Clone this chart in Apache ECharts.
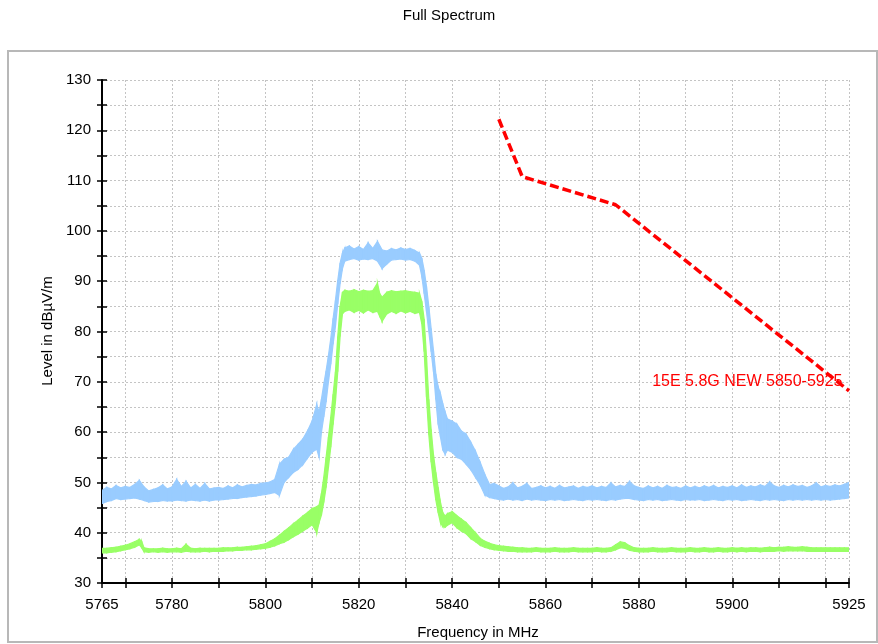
<!DOCTYPE html>
<html><head><meta charset="utf-8">
<script src="https://cdn.jsdelivr.net/npm/echarts@6/dist/echarts.min.js"></script>
<style>html,body{margin:0;padding:0;background:#fff}#c{width:878px;height:644px}</style>
</head><body><div id="c"></div>
<script>
const chartTitle = 'Full Spectrum';
const xName = 'Frequency in MHz';
const yName = 'Level in dB\u00b5V/m';
const xTicks = [5765,5770,5780,5790,5800,5810,5820,5830,5840,5850,5860,5870,5880,5890,5900,5910,5920,5925];
const xLabels = [5765,5780,5800,5820,5840,5860,5880,5900,5925];
const yLabels = [30,40,50,60,70,80,90,100,110,120,130];

// [MHz, lower envelope, upper envelope] in dBµV/m
const blueTrace = [
[5765,45.8,48.4],[5766,46.2,49.0],[5767,46.4,48.7],[5768,46.8,49.4],[5769,46.6,48.9],[5770,46.7,49.2],
[5771,46.8,49.0],[5772,46.9,49.6],[5773,46.7,50.4],[5774,46.4,49.1],[5775,46.1,48.3],[5776,46.2,48.6],
[5777,46.2,48.9],[5778,46.4,49.5],[5779,46.3,48.7],[5780,46.3,49.1],[5781,46.5,50.6],[5782,46.4,49.2],
[5783,46.3,50.2],[5784,46.5,48.9],[5785,46.4,49.6],[5786,46.3,48.8],[5787,46.5,49.8],[5788,46.3,48.7],
[5789,46.5,48.9],[5790,46.5,49.0],[5791,46.6,48.8],[5792,46.7,49.3],[5793,46.8,48.9],[5794,46.8,49.5],
[5795,47.0,49.1],[5796,47.1,49.4],[5797,47.2,49.6],[5798,47.3,49.5],[5799,47.5,49.8],[5800,47.6,49.9],
[5801,47.8,50.1],[5802,48.0,50.6],[5803,47.4,53.6],[5804,50.0,54.6],[5805,51.0,55.0],[5806,52.0,56.6],
[5807,52.6,57.6],[5808,53.5,58.6],[5809,54.8,60.2],[5810,56.0,62.2],[5811,56.6,65.5],[5811.5,55.0,64.0],
[5812,60.0,66.5],[5812.5,63.0,69.5],[5813,66.0,72.2],[5813.5,70.0,75.2],[5814,73.5,78.6],[5814.5,77.5,82.6],
[5815,81.0,86.2],[5815.5,85.5,90.2],[5816,89.5,93.6],[5816.5,92.5,95.6],[5817,94.0,96.6],[5818,94.3,97.0],
[5819,94.5,96.4],[5820,94.2,96.9],[5821,94.4,96.3],[5822,94.3,97.6],[5823,94.5,96.5],[5824,94.0,97.9],
[5825,92.5,96.2],[5826,93.4,96.0],[5827,94.2,96.5],[5828,94.3,96.2],[5829,94.4,96.6],[5830,94.2,96.3],
[5831,94.3,96.5],[5832,94.0,96.1],[5833,93.2,95.6],[5833.5,91.0,94.6],[5834,87.5,92.2],[5834.5,84.0,89.0],
[5835,80.0,85.0],[5835.5,76.0,80.6],[5836,72.0,76.2],[5836.5,66.5,71.6],[5837,61.5,69.0],[5837.5,59.0,67.6],
[5838,56.4,65.6],[5838.5,55.6,64.0],[5839,56.4,62.6],[5840,56.0,62.2],[5841,55.0,61.6],[5842,54.6,60.2],
[5843,53.6,59.6],[5844,52.5,58.0],[5845,51.0,56.2],[5846,49.5,54.0],[5847,47.5,51.6],[5848,47.0,49.6],
[5849,46.8,49.8],[5850,46.6,49.3],[5851,46.5,48.8],[5852,46.7,49.1],[5853,46.5,49.9],[5854,46.6,48.9],
[5855,46.4,49.2],[5856,46.7,49.8],[5857,46.5,48.8],[5858,46.6,49.0],[5859,46.5,49.3],[5860,46.4,48.9],
[5861,46.6,49.2],[5862,46.5,48.8],[5863,46.6,49.4],[5864,46.4,48.9],[5865,46.5,49.1],[5866,46.6,49.3],
[5867,46.5,48.8],[5868,46.4,49.2],[5869,46.6,49.0],[5870,46.5,49.3],[5871,46.6,48.9],[5872,46.5,49.2],
[5873,46.4,49.0],[5874,46.6,49.9],[5875,46.5,49.1],[5876,46.7,49.4],[5877,46.8,49.2],[5878,46.8,50.2],
[5879,46.6,49.3],[5880,46.5,49.0],[5881,46.4,48.8],[5882,46.6,49.3],[5883,46.5,48.9],[5884,46.6,49.2],
[5885,46.4,48.8],[5886,46.5,49.4],[5887,46.6,49.0],[5888,46.5,49.1],[5889,46.4,48.8],[5890,46.6,49.3],
[5891,46.5,48.9],[5892,46.5,49.2],[5893,46.6,48.9],[5894,46.4,49.3],[5895,46.5,49.0],[5896,46.6,49.4],
[5897,46.5,48.9],[5898,46.4,49.2],[5899,46.6,49.0],[5900,46.5,49.3],[5901,46.6,48.9],[5902,46.4,49.5],
[5903,46.5,49.0],[5904,46.6,49.3],[5905,46.5,49.1],[5906,46.4,49.5],[5907,46.6,49.2],[5908,46.5,50.1],
[5909,46.6,49.3],[5910,46.5,49.0],[5911,46.4,49.4],[5912,46.6,49.1],[5913,46.5,49.5],[5914,46.6,49.2],
[5915,46.5,49.4],[5916,46.6,49.0],[5917,46.5,49.3],[5918,46.6,49.9],[5919,46.5,49.1],[5920,46.6,49.4],
[5921,46.5,49.2],[5922,46.6,49.5],[5923,46.7,49.3],[5924,46.8,49.6],[5925,46.9,50.0]
];

const greenTrace = [
[5765,36.0,36.9],[5766,36.0,36.9],[5767,36.1,37.0],[5768,36.2,37.1],[5769,36.4,37.3],[5770,36.6,37.5],
[5771,36.8,37.8],[5772,37.1,38.2],[5773,37.6,38.7],[5773.5,37.0,38.3],[5774,36.2,37.0],[5775,36.1,36.8],
[5776,36.2,36.8],[5777,36.1,36.8],[5778,36.2,36.9],[5779,36.1,36.8],[5780,36.2,36.8],[5781,36.2,36.9],
[5782,36.1,36.8],[5783,36.3,37.7],[5784,36.2,36.9],[5785,36.2,36.8],[5786,36.2,36.9],[5787,36.3,36.9],
[5788,36.2,36.9],[5789,36.3,36.9],[5790,36.3,36.9],[5791,36.3,37.0],[5792,36.4,37.0],[5793,36.4,37.0],
[5794,36.5,37.1],[5795,36.5,37.1],[5796,36.6,37.2],[5797,36.6,37.3],[5798,36.7,37.4],[5799,36.8,37.6],
[5800,36.9,37.8],[5801,37.1,38.3],[5802,37.4,38.8],[5803,37.8,39.5],[5804,38.1,40.3],[5805,38.6,41.0],
[5806,39.2,41.8],[5807,39.7,42.5],[5808,40.3,43.3],[5809,40.9,44.0],[5810,41.6,44.8],[5811,40.0,45.2],
[5811.5,42.0,45.5],[5812,43.5,47.8],[5812.5,46.0,51.0],[5813,49.0,55.0],[5813.5,53.0,59.0],[5814,57.0,63.0],
[5814.5,61.5,67.5],[5815,66.0,72.0],[5815.5,72.0,79.0],[5816,79.0,85.0],[5816.5,83.5,87.8],[5817,84.0,88.2],
[5818,84.3,88.0],[5819,83.8,88.3],[5820,84.2,87.9],[5821,83.7,88.2],[5822,84.3,88.0],[5823,83.8,88.1],
[5824,84.0,89.6],[5824.5,83.0,87.5],[5825,82.0,86.8],[5826,83.5,87.8],[5827,84.0,88.1],[5828,83.6,87.9],
[5829,84.1,88.0],[5830,83.7,88.1],[5831,84.0,87.9],[5832,83.6,87.8],[5833,83.8,87.6],[5833.5,81.5,86.0],
[5834,76.0,82.5],[5834.5,67.0,75.0],[5835,59.5,66.5],[5835.5,54.0,60.5],[5836,50.0,55.5],[5836.5,46.5,52.0],
[5837,44.0,49.0],[5837.5,42.0,46.0],[5838,41.2,44.0],[5838.5,41.1,43.3],[5839,41.5,43.8],[5840,42.0,44.2],
[5841,41.0,43.4],[5842,40.3,42.7],[5843,39.8,42.0],[5844,38.8,41.0],[5845,38.2,40.0],[5846,37.5,38.9],
[5847,37.1,38.3],[5848,36.8,37.9],[5849,36.6,37.6],[5850,36.5,37.4],[5851,36.4,37.3],[5852,36.3,37.2],
[5853,36.3,37.1],[5854,36.2,37.0],[5855,36.2,37.0],[5856,36.2,36.9],[5857,36.2,36.9],[5858,36.3,37.0],
[5859,36.2,36.9],[5860,36.2,36.9],[5861,36.2,36.9],[5862,36.3,37.0],[5863,36.2,36.9],[5864,36.2,36.9],
[5865,36.2,36.9],[5866,36.3,37.0],[5867,36.2,36.9],[5868,36.2,36.9],[5869,36.2,36.9],[5870,36.2,36.9],
[5871,36.3,37.0],[5872,36.2,36.9],[5873,36.2,36.9],[5874,36.3,37.0],[5875,36.6,37.6],[5876,37.0,38.2],
[5877,36.9,38.0],[5878,36.5,37.4],[5879,36.3,37.0],[5880,36.2,36.9],[5881,36.2,36.9],[5882,36.2,36.9],
[5883,36.3,37.0],[5884,36.2,36.9],[5885,36.2,36.9],[5886,36.2,36.9],[5887,36.3,37.0],[5888,36.2,36.9],
[5889,36.2,36.9],[5890,36.2,36.9],[5891,36.3,37.0],[5892,36.2,36.9],[5893,36.2,36.9],[5894,36.3,37.0],
[5895,36.2,36.9],[5896,36.2,36.9],[5897,36.3,37.0],[5898,36.2,36.9],[5899,36.2,36.9],[5900,36.3,37.0],
[5901,36.2,36.9],[5902,36.3,37.0],[5903,36.2,36.9],[5904,36.3,37.0],[5905,36.3,37.0],[5906,36.2,36.9],
[5907,36.3,37.0],[5908,36.3,37.1],[5909,36.3,37.0],[5910,36.4,37.1],[5911,36.3,37.1],[5912,36.4,37.2],
[5913,36.4,37.1],[5914,36.4,37.1],[5915,36.4,37.2],[5916,36.3,37.1],[5917,36.3,37.0],[5918,36.3,37.0],
[5919,36.3,37.0],[5920,36.3,37.0],[5921,36.3,37.0],[5922,36.3,37.0],[5923,36.3,37.0],[5924,36.3,37.0],
[5925,36.3,37.0]
];

const limitName = '15E 5.8G NEW 5850-5925';
const limitFreq = [5850,5855,5875,5925];
const limitLevel = [122.2,110.8,105.2,68.2];

const FONT = 'Liberation Sans';
const BLUE = '#99ccff', GREEN = '#99ff66', RED = '#ff0000';

// Noisy trace drawn as a filled band between its lower and upper envelope.
function bandSeries(trace, color) {
  return {
    type:'custom', silent:true, z:2, clip:true,
    encode:{x:0, y:[1,2]},
    data: trace,
    renderItem(params, api) {
      const i = params.dataIndex;
      if (i >= trace.length - 1) return null;
      const p = trace[i], q = trace[i+1];
      const a = api.coord([p[0], p[1]]);
      const b = api.coord([p[0], p[2]]);
      const c = api.coord([q[0], q[2]]);
      const d = api.coord([q[0], q[1]]);
      return { type:'polygon', shape:{points:[a,b,c,d]},
        style:{fill:color, stroke:color, lineWidth:1.2} };
    }
  };
}

const fmt = v => String(v);
function xAx(inside) {
  return { type:'value', min:5765, max:5925, position:'bottom',
    axisLine:{show:!inside, onZero:false, lineStyle:{color:'#000', width:2}},
    axisTick:{show:true, inside, length:5, customValues:xTicks, lineStyle:{color:'#000', width:1.5}},
    axisLabel:{show:!inside, customValues:xLabels, formatter:fmt, margin:14, color:'#000', fontSize:15, fontFamily:FONT},
    splitLine:{show:!inside, lineStyle:{type:[2,2], color:'#c4c4c4', width:1}} };
}
function yAx(inside) {
  return { type:'value', min:30, max:130, interval:5, position:'left',
    axisLine:{show:!inside, onZero:false, lineStyle:{color:'#000', width:2}},
    axisTick:{show:true, inside, length:5, lineStyle:{color:'#000', width:1.5}},
    axisLabel:{show:!inside, customValues:yLabels, formatter:fmt, margin:11, color:'#000', fontSize:15, fontFamily:FONT},
    splitLine:{show:!inside, lineStyle:{type:[2,2], color:'#c4c4c4', width:1}} };
}

const chart = echarts.init(document.getElementById('c'), null, {renderer:'canvas'});
chart.setOption({
  animation:false,
  backgroundColor:'#fff',
  grid:{left:102, right:29, top:80, bottom:61, containLabel:false},
  xAxis:[xAx(false), xAx(true)],
  yAxis:[yAx(false), yAx(true)],
  graphic:[
    {type:'rect', z:-10, shape:{x:8, y:51, width:869, height:591}, style:{fill:'none', stroke:'#b8b8b8', lineWidth:2}},
    {type:'text', x:449, y:16, style:{text:chartTitle, font:'15px "Liberation Sans"', fill:'#000', align:'center', verticalAlign:'middle'}},
    {type:'text', x:478, y:633, style:{text:xName, font:'15px "Liberation Sans"', fill:'#000', align:'center', verticalAlign:'middle'}},
    {type:'text', x:48, y:331, rotation:Math.PI/2, style:{text:yName, font:'15px "Liberation Sans"', fill:'#000', align:'center', verticalAlign:'middle'}}
  ],
  series:[
    bandSeries(blueTrace, BLUE),
    bandSeries(greenTrace, GREEN),
    { type:'line', symbol:'none', z:5, silent:true,
      data: limitFreq.map((f,i)=>[f, limitLevel[i]]),
      lineStyle:{color:RED, width:3.5, type:[9,4]},
      markPoint:{ symbol:'circle', symbolSize:1, itemStyle:{color:'rgba(0,0,0,0)'}, silent:true,
        data:[{coord:[limitFreq[limitFreq.length-1], limitLevel[limitLevel.length-1]]}],
        label:{show:true, formatter:limitName, position:'left', distance:6, offset:[0,-9], color:RED, fontSize:16, fontFamily:FONT} } }
  ]
});
</script></body></html>
